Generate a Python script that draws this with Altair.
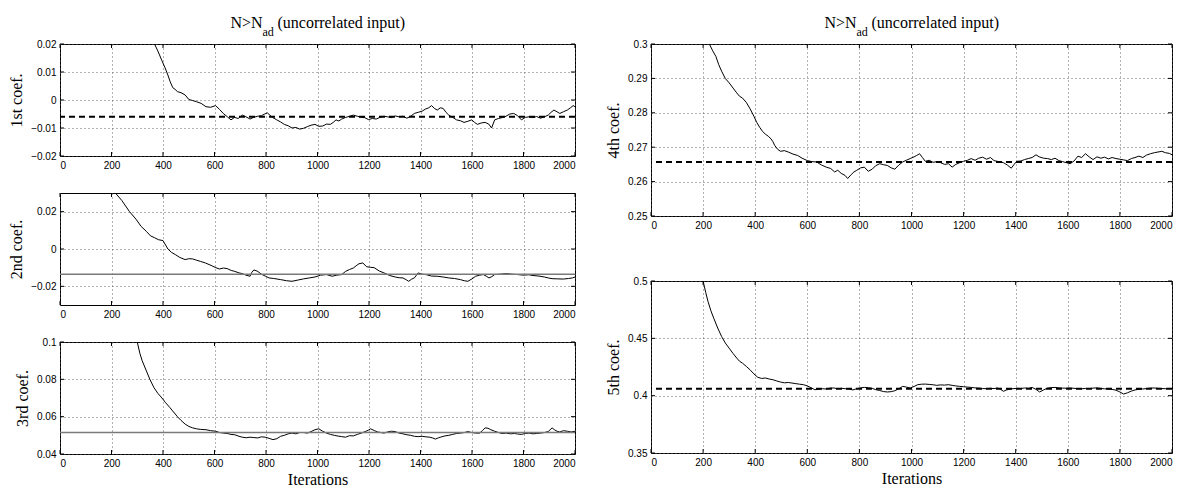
import altair as alt
import pandas as pd

SERIF = "Liberation Serif"
SANS = "Liberation Sans"

x_ticks = [0, 200, 400, 600, 800, 1000, 1200, 1400, 1600, 1800, 2000]
title_main = "N>N"
title_sub = "ad"
title_rest = "(uncorrelated input)"
x_title = "Iterations"

# ---- 1st coefficient ----
it1 = [350, 367, 380, 396, 408, 419, 428, 438, 447, 456, 470, 486, 500, 515, 530, 548, 567, 585, 604, 620,
       634, 650, 664, 678, 692, 708, 722, 738, 752, 768, 782, 795, 805, 816, 827, 840, 856, 871, 886, 901,
       916, 931, 946, 961, 975, 990, 1005, 1020, 1035, 1050, 1061, 1072, 1083, 1094, 1110, 1125, 1139, 1155,
       1170, 1183, 1198, 1213, 1228, 1243, 1258, 1272, 1287, 1302, 1317, 1332, 1347, 1362, 1376, 1391, 1406,
       1420, 1432, 1443, 1454, 1465, 1477, 1488, 1499, 1510, 1525, 1540, 1555, 1569, 1584, 1599, 1610, 1621,
       1636, 1651, 1665, 1676, 1688, 1703, 1717, 1732, 1747, 1762, 1777, 1792, 1807, 1822, 1837, 1851, 1866,
       1881, 1896, 1907, 1918, 1930, 1941, 1955, 1970, 1982, 1993, 2000]
c1 = [0.024, 0.020, 0.0175, 0.014, 0.0115, 0.0089, 0.0065, 0.0044, 0.0038, 0.0030, 0.0026, 0.0018, 0.0002,
      -0.0002, -0.0006, -0.0012, -0.0024, -0.0026, -0.0020, -0.0034, -0.0048, -0.0060, -0.0071, -0.0062,
      -0.0066, -0.0054, -0.0060, -0.0068, -0.0062, -0.0058, -0.0056, -0.0050, -0.0046, -0.0055, -0.0063,
      -0.0070, -0.0078, -0.0087, -0.0092, -0.0100, -0.0098, -0.0104, -0.0101, -0.0095, -0.0090, -0.0087,
      -0.0094, -0.0093, -0.0086, -0.0087, -0.0080, -0.0071, -0.0075, -0.0068, -0.0062, -0.0058, -0.0054,
      -0.0058, -0.0062, -0.0063, -0.0070, -0.0066, -0.0068, -0.0062, -0.0058, -0.0060, -0.0063, -0.0057,
      -0.0060, -0.0058, -0.0065, -0.0058, -0.0048, -0.0044, -0.0040, -0.0032, -0.0028, -0.0020, -0.0030,
      -0.0036, -0.0028, -0.0030, -0.0044, -0.0054, -0.0062, -0.0071, -0.0074, -0.0080, -0.0076, -0.0071,
      -0.0080, -0.0087, -0.0082, -0.0080, -0.0086, -0.0100, -0.0071, -0.0066, -0.0063, -0.0058, -0.0050,
      -0.0048, -0.0056, -0.0071, -0.0062, -0.0060, -0.0063, -0.0059, -0.0065, -0.0060, -0.0054, -0.0044,
      -0.0036, -0.0042, -0.0048, -0.0042, -0.0036, -0.0028, -0.0020, -0.0024]

# ---- 2nd coefficient ----
it2 = [200, 215, 240, 270, 295, 315, 335, 352, 368, 382, 400, 419, 433, 448, 465, 486, 500, 515, 530, 545,
       565, 590, 605, 619, 635, 649, 665, 679, 695, 708, 722, 738, 745, 753, 768, 782, 797, 812, 830, 857,
       880, 901, 925, 946, 968, 990, 1012, 1035, 1057, 1075, 1094, 1109, 1124, 1139, 1150, 1161, 1176, 1191,
       1205, 1220, 1240, 1258, 1280, 1302, 1317, 1332, 1345, 1354, 1365, 1376, 1391, 1405, 1421, 1443, 1465,
       1488, 1510, 1532, 1555, 1570, 1584, 1600, 1614, 1630, 1644, 1655, 1666, 1677, 1688, 1710, 1733, 1755,
       1777, 1800, 1820, 1837, 1860, 1881, 1896, 1911, 1933, 1955, 1975, 1990, 2000]
c2 = [0.034, 0.030, 0.026, 0.020, 0.0160, 0.0121, 0.0095, 0.0070, 0.0060, 0.0050, 0.0045, 0.0000, -0.0018,
      -0.0030, -0.0045, -0.0057, -0.0052, -0.0053, -0.0060, -0.0066, -0.0075, -0.0090, -0.0100, -0.0107,
      -0.0102, -0.0105, -0.0115, -0.0120, -0.0128, -0.0132, -0.0140, -0.0146, -0.0125, -0.0112, -0.0120,
      -0.0135, -0.0145, -0.0155, -0.0158, -0.0164, -0.0170, -0.0173, -0.0166, -0.0160, -0.0155, -0.0150,
      -0.0140, -0.0137, -0.0146, -0.0140, -0.0137, -0.0120, -0.0110, -0.0102, -0.0090, -0.0079, -0.0075,
      -0.0095, -0.0098, -0.0100, -0.0118, -0.0128, -0.0142, -0.0150, -0.0154, -0.0155, -0.0165, -0.0173,
      -0.0162, -0.0155, -0.0128, -0.0135, -0.0137, -0.0145, -0.0146, -0.0150, -0.0155, -0.0158, -0.0164,
      -0.0170, -0.0173, -0.0160, -0.0146, -0.0140, -0.0137, -0.0145, -0.0155, -0.0148, -0.0137, -0.0135,
      -0.0132, -0.0135, -0.0137, -0.0140, -0.0138, -0.0142, -0.0145, -0.0150, -0.0155, -0.0159, -0.0160,
      -0.0161, -0.0158, -0.0155, -0.0150]

# ---- 3rd coefficient ----
it3 = [285, 300, 310, 319, 334, 349, 365, 380, 396, 410, 426, 441, 456, 470, 486, 500, 515, 530, 545, 567,
       585, 604, 620, 635, 649, 664, 679, 695, 708, 723, 738, 753, 768, 782, 797, 812, 827, 842, 857, 871,
       886, 901, 916, 931, 946, 961, 975, 990, 1005, 1020, 1035, 1050, 1065, 1080, 1094, 1109, 1124, 1139,
       1155, 1170, 1185, 1198, 1206, 1220, 1233, 1243, 1258, 1272, 1287, 1302, 1317, 1332, 1347, 1362, 1376,
       1391, 1406, 1421, 1436, 1447, 1458, 1470, 1482, 1495, 1510, 1525, 1540, 1555, 1570, 1584, 1599, 1614,
       1630, 1640, 1651, 1662, 1673, 1688, 1703, 1717, 1733, 1750, 1765, 1777, 1792, 1807, 1822, 1837, 1851,
       1866, 1881, 1896, 1911, 1920, 1930, 1941, 1955, 1970, 1985, 2000]
c3 = [0.106, 0.100, 0.094, 0.090, 0.085, 0.080, 0.0755, 0.0725, 0.070, 0.0675, 0.065, 0.0625, 0.060, 0.058,
      0.056, 0.0548, 0.054, 0.0535, 0.0532, 0.0530, 0.0525, 0.0522, 0.0515, 0.0512, 0.0510, 0.0505, 0.0503,
      0.0495, 0.0490, 0.0487, 0.0490, 0.0488, 0.0486, 0.0492, 0.0490, 0.0484, 0.0477, 0.0482, 0.0495, 0.0500,
      0.0508, 0.0512, 0.0508, 0.0515, 0.0515, 0.0512, 0.0520, 0.0530, 0.0535, 0.0522, 0.0512, 0.0505, 0.0500,
      0.0496, 0.0493, 0.0490, 0.0498, 0.0497, 0.0505, 0.0512, 0.0520, 0.0528, 0.0535, 0.0526, 0.0518, 0.0516,
      0.0512, 0.0518, 0.0522, 0.0520, 0.0512, 0.0508, 0.0503, 0.0500, 0.0495, 0.0493, 0.0495, 0.0492, 0.0490,
      0.0486, 0.0480, 0.0487, 0.0492, 0.0497, 0.0500, 0.0505, 0.0510, 0.0512, 0.0515, 0.0520, 0.0515, 0.0512,
      0.0512, 0.0525, 0.0540, 0.0538, 0.0530, 0.0522, 0.0515, 0.0510, 0.0512, 0.0508, 0.0510, 0.0507, 0.0505,
      0.0510, 0.0512, 0.0508, 0.0510, 0.0512, 0.0515, 0.0520, 0.0540, 0.0530, 0.0522, 0.0518, 0.0525, 0.0522,
      0.0518, 0.0522]

# ---- 4th coefficient ----
it4 = [210, 224, 237, 249, 260, 271, 285, 300, 315, 329, 340, 351, 366, 380, 395, 406, 417, 428, 439, 450,
       461, 468, 475, 486, 497, 512, 527, 545, 563, 580, 600, 618, 636, 655, 673, 690, 705, 717, 730, 745,
       755, 768, 779, 790, 805, 819, 834, 849, 862, 878, 893, 907, 922, 936, 951, 966, 980, 995, 1010, 1020,
       1031, 1042, 1053, 1068, 1083, 1097, 1112, 1127, 1142, 1156, 1170, 1185, 1200, 1215, 1229, 1244, 1258,
       1273, 1288, 1303, 1317, 1335, 1353, 1368, 1383, 1394, 1404, 1420, 1434, 1448, 1463, 1478, 1490, 1507,
       1522, 1537, 1551, 1566, 1580, 1595, 1609, 1624, 1639, 1653, 1668, 1682, 1697, 1712, 1727, 1741, 1756,
       1770, 1785, 1800, 1815, 1829, 1844, 1858, 1873, 1888, 1902, 1917, 1932, 1946, 1961, 1975, 1990, 2000]
c4 = [0.302, 0.300, 0.298, 0.2964, 0.294, 0.2921, 0.2900, 0.2887, 0.2872, 0.2858, 0.2848, 0.2843, 0.2830,
      0.2812, 0.2790, 0.2772, 0.2758, 0.2746, 0.2738, 0.2732, 0.2724, 0.2716, 0.2705, 0.2694, 0.2688, 0.2690,
      0.2686, 0.2680, 0.2676, 0.2668, 0.2661, 0.2658, 0.2657, 0.2648, 0.2642, 0.2638, 0.2628, 0.2633, 0.2624,
      0.2618, 0.2609, 0.2620, 0.2628, 0.2633, 0.2640, 0.2642, 0.2630, 0.2636, 0.2646, 0.2652, 0.2649, 0.2647,
      0.2640, 0.2636, 0.2648, 0.2657, 0.2662, 0.2667, 0.2672, 0.2676, 0.2681, 0.2670, 0.2659, 0.2662, 0.2656,
      0.2658, 0.2655, 0.2650, 0.2652, 0.2642, 0.2650, 0.2655, 0.2659, 0.2662, 0.2667, 0.2662, 0.2668, 0.2671,
      0.2665, 0.2670, 0.2661, 0.2658, 0.2655, 0.2648, 0.2639, 0.2650, 0.2659, 0.2660, 0.2664, 0.2667, 0.2670,
      0.2678, 0.2672, 0.2668, 0.2667, 0.2664, 0.2668, 0.2661, 0.2658, 0.2655, 0.2652, 0.2660, 0.2674, 0.2670,
      0.2681, 0.2672, 0.2664, 0.2672, 0.2668, 0.2671, 0.2666, 0.2670, 0.2667, 0.2665, 0.2663, 0.2661, 0.2667,
      0.2670, 0.2674, 0.2670, 0.2677, 0.2681, 0.2684, 0.2686, 0.2688, 0.2684, 0.2682, 0.2678]

# ---- 5th coefficient ----
it5 = [195, 200, 210, 219, 230, 241, 256, 271, 285, 300, 315, 329, 340, 351, 366, 380, 395, 410, 425, 439,
       454, 468, 483, 497, 512, 527, 541, 556, 570, 585, 600, 614, 629, 643, 658, 673, 687, 702, 717, 731,
       746, 760, 775, 790, 805, 819, 834, 849, 863, 878, 892, 907, 922, 936, 951, 966, 980, 995, 1010, 1024,
       1039, 1053, 1068, 1083, 1097, 1112, 1127, 1141, 1156, 1170, 1185, 1200, 1214, 1229, 1243, 1258, 1273,
       1287, 1302, 1317, 1331, 1342, 1353, 1365, 1378, 1390, 1405, 1419, 1434, 1449, 1463, 1478, 1492, 1507,
       1522, 1536, 1551, 1566, 1580, 1595, 1609, 1624, 1639, 1653, 1668, 1683, 1697, 1712, 1727, 1741, 1756,
       1770, 1785, 1800, 1814, 1829, 1844, 1858, 1873, 1887, 1902, 1917, 1931, 1946, 1961, 1975, 1990, 2000]
c5 = [0.505, 0.500, 0.490, 0.482, 0.474, 0.4675, 0.459, 0.4516, 0.446, 0.4414, 0.4368, 0.4328, 0.4300,
      0.4284, 0.4255, 0.4226, 0.4190, 0.4160, 0.4150, 0.4154, 0.4145, 0.4139, 0.4128, 0.4119, 0.4112, 0.4115,
      0.4110, 0.4105, 0.4100, 0.4096, 0.4085, 0.4070, 0.4052, 0.4055, 0.4061, 0.4058, 0.4066, 0.4067, 0.4060,
      0.4064, 0.4061, 0.4058, 0.4050, 0.4061, 0.4068, 0.4072, 0.4070, 0.4064, 0.4052, 0.4045, 0.4036, 0.4032,
      0.4035, 0.4043, 0.4060, 0.4081, 0.4075, 0.4067, 0.4080, 0.4096, 0.4100, 0.4101, 0.4098, 0.4095, 0.4090,
      0.4094, 0.4092, 0.4096, 0.4090, 0.4085, 0.4081, 0.4078, 0.4075, 0.4072, 0.4068, 0.4066, 0.4062, 0.4061,
      0.4064, 0.4062, 0.4067, 0.4055, 0.4038, 0.4050, 0.4058, 0.4061, 0.4064, 0.4062, 0.4067, 0.4064, 0.4072,
      0.4055, 0.4032, 0.4050, 0.4066, 0.4070, 0.4072, 0.4068, 0.4066, 0.4065, 0.4067, 0.4064, 0.4061, 0.4060,
      0.4063, 0.4062, 0.4066, 0.4068, 0.4063, 0.4060, 0.4058, 0.4055, 0.4048, 0.4032, 0.4014, 0.4025, 0.4040,
      0.4050, 0.4055, 0.4058, 0.4062, 0.4066, 0.4067, 0.4064, 0.4062, 0.4061, 0.4063, 0.4062]

ref_values = [-0.006, -0.0135, 0.0515, 0.2657, 0.406]
y_domains = [[-0.02, 0.02], [-0.03, 0.03], [0.04, 0.1], [0.25, 0.3], [0.35, 0.5]]
y_ticks = [[-0.02, -0.01, 0, 0.01, 0.02], [-0.02, 0, 0.02], [0.04, 0.06, 0.08, 0.1],
           [0.25, 0.26, 0.27, 0.28, 0.29, 0.3], [0.35, 0.4, 0.45, 0.5]]
y_titles = ["1st coef.", "2nd coef.", "3rd coef.", "4th coef.", "5th coef."]

TICK_LEN = 4


def panel(iters, vals, k, w, h, dashed, show_xtitle=False, add_title=False):
    df = pd.DataFrame({"it": iters, "v": vals})
    xscale = alt.Scale(domain=[0, 2000], nice=False, zero=False)
    if show_xtitle:
        xaxis = alt.Axis(values=x_ticks, format="d", title=x_title, titlePadding=3)
    else:
        xaxis = alt.Axis(values=x_ticks, format="d", title=None)
    yscale = alt.Scale(domain=y_domains[k], nice=False, zero=False)
    yaxis = alt.Axis(values=y_ticks[k], format="~g", title=y_titles[k])
    xenc = alt.X("it:Q", scale=xscale, axis=xaxis)
    line = alt.Chart(df).mark_line(color="black", strokeWidth=1, clip=True).encode(
        x=xenc,
        y=alt.Y("v:Q", scale=yscale, axis=yaxis),
    )
    rdf = pd.DataFrame({"r": [ref_values[k]]})
    if dashed:
        rule = alt.Chart(rdf).mark_rule(color="black", strokeWidth=2, strokeDash=[6, 4])
    else:
        rule = alt.Chart(rdf).mark_rule(color="#7a7a7a", strokeWidth=1.5)
    rule = rule.encode(y=alt.Y("r:Q", scale=yscale, axis=yaxis))

    # inward tick marks on all four sides (MATLAB box style)
    xt = pd.DataFrame({"it": x_ticks})
    xt_bottom = alt.Chart(xt).mark_rule(color="black", strokeWidth=1).encode(
        x=xenc, y=alt.value(h), y2=alt.value(h - TICK_LEN))
    xt_top = alt.Chart(xt).mark_rule(color="black", strokeWidth=1).encode(
        x=xenc, y=alt.value(0), y2=alt.value(TICK_LEN))
    yt = pd.DataFrame({"v": y_ticks[k]})
    yenc = alt.Y("v:Q", scale=yscale, axis=yaxis)
    yt_left = alt.Chart(yt).mark_rule(color="black", strokeWidth=1).encode(
        y=yenc, x=alt.value(0), x2=alt.value(TICK_LEN))
    yt_right = alt.Chart(yt).mark_rule(color="black", strokeWidth=1).encode(
        y=yenc, x=alt.value(w), x2=alt.value(w - TICK_LEN))

    layers = [line, rule, xt_bottom, xt_top, yt_left, yt_right]
    if add_title:
        cx = w / 2.0
        start = cx - 87
        t1 = alt.Chart(pd.DataFrame({"t": [title_main]})).mark_text(
            font=SERIF, fontSize=16, align="left", baseline="alphabetic", color="black"
        ).encode(x=alt.value(start), y=alt.value(-16), text="t:N")
        t2 = alt.Chart(pd.DataFrame({"t": [title_sub]})).mark_text(
            font=SERIF, fontSize=12, align="left", baseline="alphabetic", color="black"
        ).encode(x=alt.value(start + 32), y=alt.value(-8), text="t:N")
        t3 = alt.Chart(pd.DataFrame({"t": [title_rest]})).mark_text(
            font=SERIF, fontSize=16, align="left", baseline="alphabetic", color="black"
        ).encode(x=alt.value(start + 47), y=alt.value(-16), text="t:N")
        layers += [t1, t2, t3]
    return alt.layer(*layers).properties(width=w, height=h)


LW, LH = 515, 112
RW, RH = 521, 172

p1 = panel(it1, c1, 0, LW, LH, True, add_title=True)
p2 = panel(it2, c2, 1, LW, LH, False)
p3 = panel(it3, c3, 2, LW, LH, False, show_xtitle=True)
p4 = panel(it4, c4, 3, RW, RH, True, add_title=True)
p5 = panel(it5, c5, 4, RW, RH, True, show_xtitle=True)

left = alt.vconcat(p1, p2, p3, spacing=37, bounds="flush")
right = alt.vconcat(p4, p5, spacing=65, bounds="flush")

chart = alt.hconcat(left, right, spacing=28).properties(
    padding={"left": 8, "top": 14, "right": 2, "bottom": 2},
    background="white",
).configure_view(
    stroke="black", strokeWidth=1
).configure_axis(
    domain=False,
    ticks=False,
    labelFont=SANS,
    labelFontSize=10,
    labelColor="black",
    labelPadding=4,
    grid=True,
    gridColor="#555555",
    gridDash=[1, 3],
    gridWidth=1,
    gridOpacity=0.9,
    titleFont=SERIF,
    titleFontSize=16,
    titleFontWeight="normal",
    titleColor="black",
    titlePadding=6,
)

chart.save("out.html", embed_options={"renderer": "svg", "actions": False})
